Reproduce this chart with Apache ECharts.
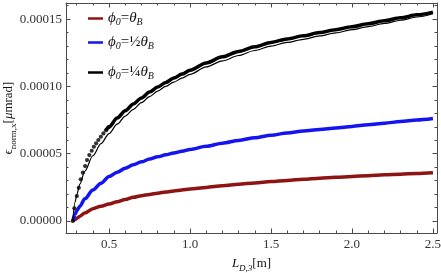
<!DOCTYPE html>
<html><head><meta charset="utf-8">
<script src="https://cdn.jsdelivr.net/npm/echarts@6/dist/echarts.min.js"></script>
<style>html,body{margin:0;padding:0;background:#fff}#c{width:441px;height:273px}</style>
</head><body><div id="c"></div>
<script>
// L_D,3 [m] sample positions
const xGrid = [0.276,0.29,0.3,0.32,0.35,0.4,0.45,0.5,0.55,0.6,0.65,0.7,0.75,0.8,0.85,0.9,0.95,1.0,1.1,1.2,1.3,1.4,1.5,1.6,1.7,1.8,1.9,2.0,2.1,2.2,2.3,2.4,2.5];
// phi0 = theta_B (dark red)
const redEps = [0,0.12e-5,0.2e-5,0.36e-5,0.6e-5,0.92e-5,1.09e-5,1.26e-5,1.44e-5,1.6e-5,1.76e-5,1.88e-5,1.98e-5,2.07e-5,2.16e-5,2.24e-5,2.31e-5,2.38e-5,2.5e-5,2.62e-5,2.73e-5,2.83e-5,2.93e-5,3.02e-5,3.1e-5,3.18e-5,3.25e-5,3.31e-5,3.37e-5,3.43e-5,3.48e-5,3.53e-5,3.58e-5];
// phi0 = 1/2 theta_B (blue)
const blueEps = [0,0.5e-5,0.75e-5,1.1e-5,1.65e-5,2.3e-5,2.8e-5,3.3e-5,3.62e-5,3.92e-5,4.18e-5,4.4e-5,4.6e-5,4.77e-5,4.92e-5,5.06e-5,5.19e-5,5.32e-5,5.55e-5,5.78e-5,5.99e-5,6.19e-5,6.37e-5,6.54e-5,6.68e-5,6.8e-5,6.92e-5,7.03e-5,7.15e-5,7.27e-5,7.39e-5,7.51e-5,7.62e-5];
// phi0 = 1/4 theta_B, thin curve
const blackFitEps = [0,1.4e-5,1.95e-5,2.75e-5,3.7e-5,4.85e-5,5.75e-5,6.5e-5,7.2e-5,7.8e-5,8.3e-5,8.8e-5,9.25e-5,9.65e-5,10.0e-5,10.32e-5,10.62e-5,10.9e-5,11.45e-5,11.9e-5,12.3e-5,12.67e-5,13.0e-5,13.27e-5,13.5e-5,13.75e-5,13.98e-5,14.22e-5,14.45e-5,14.68e-5,14.92e-5,15.16e-5,15.4e-5];
// phi0 = 1/4 theta_B, separate points near the start
const blackDotsL = [0.276,0.286,0.301,0.313,0.325,0.338,0.352,0.364,0.378,0.393,0.406,0.42,0.434,0.449,0.465,0.481,0.497];
const blackDotsEps = [0,0.94e-5,1.86e-5,2.47e-5,3.1e-5,3.59e-5,4.08e-5,4.53e-5,4.9e-5,5.22e-5,5.52e-5,5.77e-5,6.02e-5,6.26e-5,6.51e-5,6.74e-5,6.96e-5];
// phi0 = 1/4 theta_B, dense points merging into a band
const blackBandL = [0.48,0.5,0.55,0.6,0.65,0.7,0.75,0.8,0.85,0.9,0.95,1.0,1.1,1.2,1.3,1.4,1.5,1.6,1.7,1.8,1.9,2.0,2.1,2.2,2.3,2.4,2.5];
const blackBandEps = [6.72e-5,7.0e-5,7.65e-5,8.2e-5,8.7e-5,9.15e-5,9.58e-5,9.95e-5,10.3e-5,10.62e-5,10.92e-5,11.2e-5,11.75e-5,12.2e-5,12.6e-5,12.95e-5,13.27e-5,13.53e-5,13.76e-5,14.0e-5,14.22e-5,14.44e-5,14.66e-5,14.88e-5,15.1e-5,15.32e-5,15.52e-5];

const nameRed = 'ϕ0=θB', nameBlue = 'ϕ0=½θB', nameBlack = 'ϕ0=¼θB';
const zip = (a, b) => a.map((v, i) => [v, b[i]]);

const F = 'Liberation Serif';
const frame = '#4a4a4a';
const X0 = 0.234, X1 = 2.525, Y0 = -0.0000089, Y1 = 0.000162;

function mkRich(big, sub, lh) {
  return {
    i: {fontFamily: F, fontStyle: 'italic', fontSize: big, color: '#111', verticalAlign: 'middle', lineHeight: lh},
    r: {fontFamily: F, fontSize: big, color: '#111', verticalAlign: 'middle', lineHeight: lh},
    s: {fontFamily: F, fontStyle: 'italic', fontSize: sub, color: '#111', verticalAlign: 'bottom', lineHeight: sub},
    su: {fontFamily: F, fontSize: sub, color: '#111', verticalAlign: 'bottom', lineHeight: sub}
  };
}
const legendRich = mkRich(15, 10, 18);
const axisRich = mkRich(13, 9, 18);

const legendText = {};
legendText[nameRed] = '{i|ϕ}{s|0}{r|=}{i|θ}{s|B}';
legendText[nameBlue] = '{i|ϕ}{s|0}{r|=}{r|½}{i|θ}{s|B}';
legendText[nameBlack] = '{i|ϕ}{s|0}{r|=}{r|¼}{i|θ}{s|B}';

function xAxisDef(pos, minor) {
  return {
    type: 'value', min: X0, max: X1, position: pos, gridIndex: 0,
    splitNumber: minor ? 23 : 5,
    axisLine: {show: !minor, onZero: false, lineStyle: {color: frame, width: 1}},
    axisTick: {show: true, inside: true, length: minor ? 2.5 : 4.5, lineStyle: {color: frame}},
    axisLabel: {show: (!minor && pos === 'bottom'), fontFamily: F, fontSize: 13, color: '#333', margin: 5,
      showMinLabel: false, showMaxLabel: false, formatter: v => v.toFixed(1)},
    splitLine: {show: false}
  };
}
function yAxisDef(pos, minor) {
  return {
    type: 'value', min: Y0, max: Y1, position: pos, gridIndex: 0,
    splitNumber: minor ? 17 : 3,
    axisLine: {show: !minor, onZero: false, lineStyle: {color: frame, width: 1}},
    axisTick: {show: true, inside: true, length: minor ? 2.5 : 4.5, lineStyle: {color: frame}},
    axisLabel: {show: (!minor && pos === 'left'), fontFamily: F, fontSize: 13, color: '#333', margin: 4,
      showMinLabel: false, showMaxLabel: false, formatter: v => v.toFixed(5)},
    splitLine: {show: false}
  };
}

const xa = [xAxisDef('bottom', false), xAxisDef('bottom', true), xAxisDef('top', false), xAxisDef('top', true)];
xa[0].name = '{i|L}{s|D,3}{r|[m]}';
xa[0].nameLocation = 'middle';
xa[0].nameGap = 22;
xa[0].nameMoveOverlap = false;
xa[0].nameTextStyle = {rich: axisRich};
const ya = [yAxisDef('left', false), yAxisDef('left', true), yAxisDef('right', false), yAxisDef('right', true)];
ya[0].name = '{r|ϵ}{su|norm,x}{r|[}{i|μ}{r|mrad]}';
ya[0].nameLocation = 'middle';
ya[0].nameRotate = 90;
ya[0].nameGap = 48;
ya[0].nameMoveOverlap = false;
ya[0].nameTextStyle = {rich: axisRich};

const RED = '#8e1414', BLUE = '#1414f0', BLACK = '#000';

function legendFor(name, top) {
  return {
    orient: 'vertical', left: 88, top: top, itemGap: 0, itemWidth: 15, itemHeight: 2.5, padding: 0,
    data: [{name: name, icon: 'rect'}],
    formatter: n => legendText[n],
    textStyle: {rich: legendRich}
  };
}

const option = {
  animation: false,
  backgroundColor: '#fff',
  grid: {left: 66, right: 4, top: 3, bottom: 40, containLabel: false, outerBoundsMode: 'none'},
  xAxis: xa,
  yAxis: ya,
  legend: [legendFor(nameRed, 11), legendFor(nameBlue, 35), legendFor(nameBlack, 65)],
  series: [
    {name: nameRed, type: 'line', data: zip(xGrid, redEps), showSymbol: false, smooth: 0.3, smoothMonotone: 'x',
      lineStyle: {color: RED, width: 3.5}, itemStyle: {color: RED}, z: 3},
    {name: nameBlue, type: 'line', data: zip(xGrid, blueEps), showSymbol: false, smooth: 0.3, smoothMonotone: 'x',
      lineStyle: {color: BLUE, width: 3.5}, itemStyle: {color: BLUE}, z: 3},
    {name: 'fit', type: 'line', data: zip(xGrid, blackFitEps), showSymbol: false, smooth: 0.3, smoothMonotone: 'x',
      lineStyle: {color: BLACK, width: 1.2}, itemStyle: {color: BLACK}, z: 4},
    {name: nameBlack, type: 'line', data: zip(blackBandL, blackBandEps), showSymbol: false, smooth: 0.3, smoothMonotone: 'x',
      lineStyle: {color: BLACK, width: 3.5}, itemStyle: {color: BLACK}, z: 5},
    {name: nameBlack, type: 'scatter', data: zip(blackDotsL, blackDotsEps), symbol: 'circle', symbolSize: 4.2,
      itemStyle: {color: BLACK}, z: 6}
  ]
};
const chart = echarts.init(document.getElementById('c'), null, {renderer: 'canvas'});
chart.setOption(option);
</script></body></html>
